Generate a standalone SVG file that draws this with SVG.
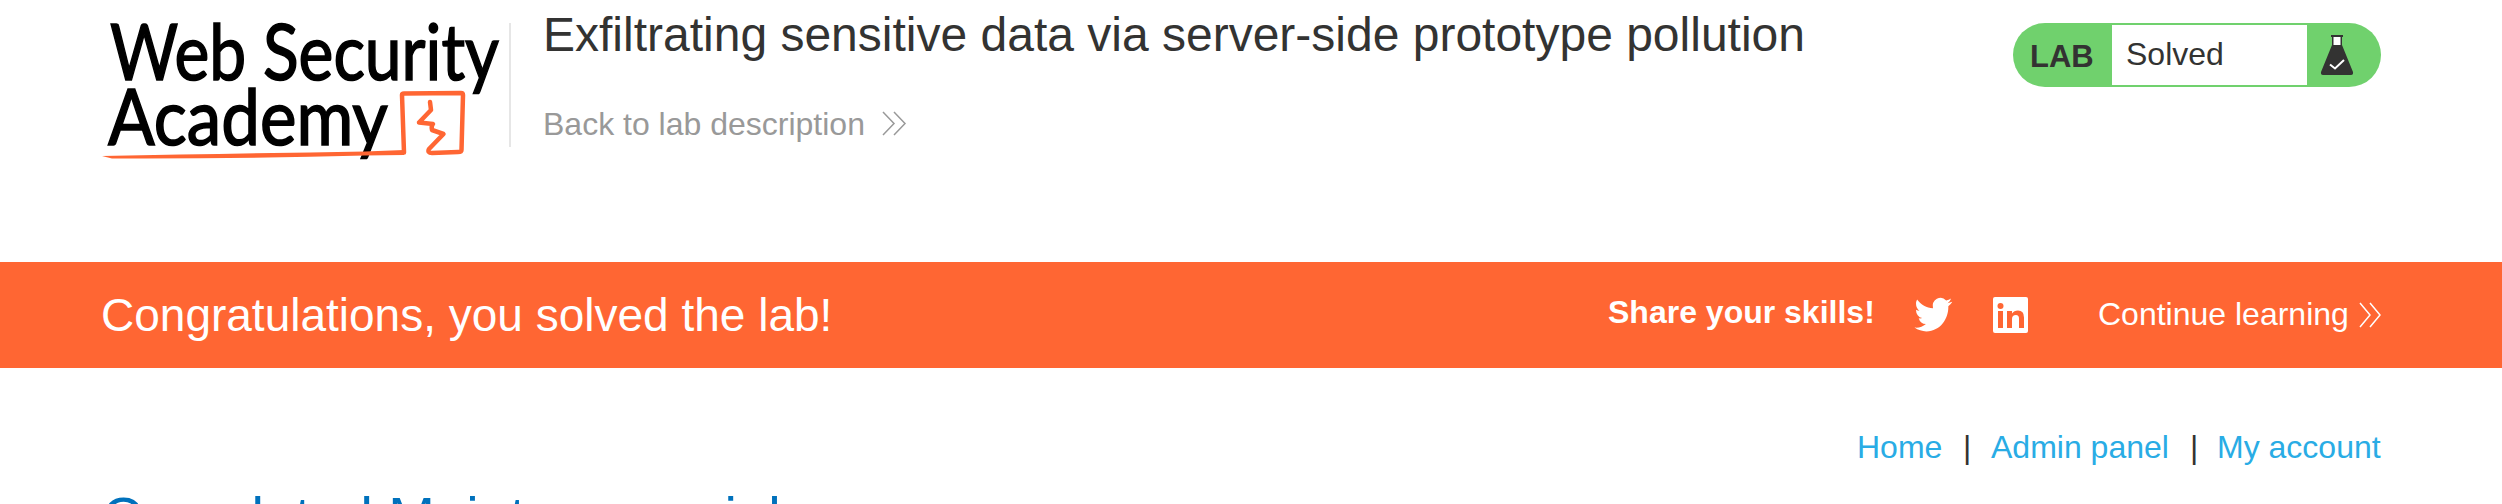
<svg xmlns="http://www.w3.org/2000/svg" width="2502" height="504" viewBox="0 0 2502 504">
<style>
text{font-family:"Liberation Sans",Arial,sans-serif}
.logo{font-family:"Lato","Noto Sans",sans-serif;font-size:78px;fill:#000;stroke:#000;stroke-width:1.600px}
.lk{fill:#29ace5;font-size:32px}
.sep{fill:#333332;font-size:32px}
.chev{fill:none;stroke-width:1.500}
</style>
<rect width="2502" height="504" fill="#fff"/>
<g id="logo">
<text class="logo" x="110" y="80" textLength="389" lengthAdjust="spacingAndGlyphs">Web Security</text>
<text class="logo" x="108" y="145" textLength="280" lengthAdjust="spacingAndGlyphs">Academy</text>
<path d="M404 152.500 L402 95 Q402 93.500 404 93.500 L461 93 Q463 93 463 95 L461.500 150 Q461.500 152 458 152 L432 153 Q427 153 429 149 L443.500 134 L432 130 Q431 126 433 124 L419 122.500 L431 110 L430 102" fill="none" stroke="#ff6633" stroke-width="4.500" stroke-linecap="round" stroke-linejoin="round"/>
<path d="M102 156 Q240 153.500 365 151.500 L404 150 L404 155 L365 155.500 Q240 159 112 158.500Z" fill="#ff6633"/>
</g>
<rect id="divider" x="509" y="23" width="2" height="124" fill="#e6e6e6"/>
<g id="title">
<text x="543" y="50.500" font-size="48" fill="#333332">Exfiltrating sensitive data via server-side prototype pollution</text>
</g>
<g id="back-link">
<text x="543" y="134.500" font-size="32" fill="#999">Back to lab description</text>
<path class="chev" stroke="#999" d="M883 112 L894 123.500 L883 135 M894 112 L905 123.500 L894 135"/>
</g>
<g id="status-badge">
<rect x="2013" y="23" width="368" height="64" rx="32" fill="#70d16d"/>
<rect x="2112" y="25" width="195" height="60" fill="#fff"/>
<text x="2030" y="66.500" font-size="31" font-weight="700" fill="#333332">LAB</text>
<text x="2126" y="65" font-size="32" fill="#333332">Solved</text>
<path d="M2331 35H2343V37H2342V45L2353 72Q2353.500 75 2351 75H2323Q2320.500 75 2321 72L2332 45V37H2331Z" fill="#333332"/>
<rect x="2333.500" y="37" width="7" height="8" fill="#fff"/>
<path d="M2330 64.500L2335 68.500L2344 60" fill="none" stroke="#fff" stroke-width="2"/>
</g>
<g id="banner">
<rect y="262" width="2502" height="106" fill="#ff6633"/>
<text x="101" y="331" font-size="46" fill="#fff">Congratulations, you solved the lab!</text>
<text x="1608" y="323" font-size="32" font-weight="700" fill="#fff">Share your skills!</text>
<path id="twitter" fill="#fff" transform="translate(1914.500 294) scale(1.57 1.72)" d="M23.953 4.57a10 10 0 01-2.825.775 4.958 4.958 0 002.163-2.723c-.951.555-2.005.959-3.127 1.184a4.92 4.92 0 00-8.384 4.482C7.69 8.095 4.067 6.13 1.64 3.162a4.822 4.822 0 00-.666 2.475c0 1.71.87 3.213 2.188 4.096a4.904 4.904 0 01-2.228-.616v.06a4.923 4.923 0 003.946 4.827 4.996 4.996 0 01-2.212.085 4.936 4.936 0 004.604 3.417 9.867 9.867 0 01-6.102 2.105c-.39 0-.779-.023-1.17-.067a13.995 13.995 0 007.557 2.209c9.053 0 13.998-7.496 13.998-13.985 0-.21 0-.42-.015-.63A9.935 9.935 0 0024 4.59z"/>
<g id="linkedin">
<rect x="1993" y="297" width="35" height="36" rx="2" fill="#fff"/>
<rect x="1998" y="311" width="5" height="17" fill="#ff6633"/>
<circle cx="2000.500" cy="306" r="3" fill="#ff6633"/>
<path d="M2007 311H2012V313.500Q2014 310.500 2018 310.500Q2024 310.500 2024 317.500V328H2019V318.500Q2019 315 2016 315Q2012 315 2012 319V328H2007Z" fill="#ff6633"/>
</g>
<text x="2098" y="325" font-size="32" fill="#fff">Continue learning</text>
<path class="chev" stroke="#fff" d="M2360 303 L2370 315 L2360 327 M2370 303 L2380 315 L2370 327"/>
</g>
<g id="nav">
<text class="lk" x="1857" y="458">Home</text>
<text class="sep" x="1963" y="458">|</text>
<text class="lk" x="1991" y="458">Admin panel</text>
<text class="sep" x="2190" y="458">|</text>
<text class="lk" x="2217" y="458">My account</text>
</g>
<text id="heading" x="102" y="536" font-size="56" fill="#0071bc">Completed Maintenance jobs</text>
</svg>
